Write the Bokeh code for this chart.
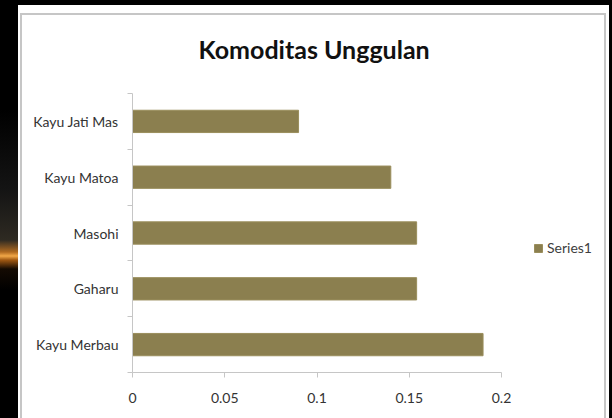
from bokeh.plotting import figure
from bokeh.models import Range1d, FixedTicker, Legend
from bokeh.embed import file_html
from bokeh.resources import INLINE

# ---- data ----
categories = ["Kayu Merbau", "Gaharu", "Masohi", "Kayu Matoa", "Kayu Jati Mas"]
values = [0.19, 0.154, 0.154, 0.14, 0.09]
x_ticks = [0, 0.05, 0.1, 0.15, 0.2]
x_tick_labels = ["0", "0.05", "0.1", "0.15", "0.2"]
series_name = "Series1"
title_text = "Komoditas Unggulan"

BAR = "#8b7f4f"
FONT = "Lato"
GRAY = "#c6c6c6"

ypos = [i + 0.5 for i in range(len(categories))]

# layout: axis 0..0.2 spans 369 px, frame extends to the right for the legend
AXIS_PX = 369
FRAME_LEFT, FRAME_RIGHT = 132, 604
x_end = x_ticks[-1] * (FRAME_RIGHT - FRAME_LEFT) / AXIS_PX

backdrop = ",".join([
    f"linear-gradient({GRAY},{GRAY}) 20px 13px/586px 2px no-repeat",
    f"linear-gradient({GRAY},{GRAY}) 20px 13px/2px 405px no-repeat",
    f"linear-gradient({GRAY},{GRAY}) 604px 13px/2px 405px no-repeat",
    "linear-gradient(#000,#000) 0 0/100% 5px no-repeat",
    "linear-gradient(#000,#000) 609px 0/3px 100% no-repeat",
    "linear-gradient(to bottom, #000 0px, #000 110px, #141414 190px, "
    "#2e2a22 240px, #b06a20 252px, #f2a848 256px, #a05812 260px, "
    "#140a02 269px, #000 290px, #000 418px) 0 0/18px 100% no-repeat",
    "#ffffff",
])

p = figure(width=612, height=418, output_backend="svg", toolbar_location=None,
           x_range=Range1d(0, x_end), y_range=Range1d(0, len(categories)),
           min_border_left=FRAME_LEFT, min_border_right=612 - FRAME_RIGHT,
           min_border_top=93, min_border_bottom=46,
           styles={"background": backdrop})
p.background_fill_color = None
p.border_fill_color = None
p.outline_line_color = None
p.xgrid.visible = False
p.ygrid.visible = False

r = p.hbar(y=ypos, right=values, left=0, height=0.4, fill_color=BAR,
           line_color="#9a8e5c", line_width=1)

# title
p.title.text = title_text
p.title.align = "left"
p.title.offset = 66
p.title.text_font = FONT
p.title.text_font_style = "bold"
p.title.text_font_size = "25px"
p.title.text_color = "#111111"
p.title.standoff = 60

# x axis
xa = p.xaxis[0]
xa.bounds = (x_ticks[0], x_ticks[-1])
xa.ticker = FixedTicker(ticks=x_ticks, minor_ticks=[])
xa.major_label_overrides = {t: l for t, l in zip(x_ticks, x_tick_labels)}
xa.axis_line_color = GRAY
xa.major_tick_line_color = GRAY
xa.major_tick_out = 5
xa.major_tick_in = 0
xa.major_label_standoff = 15
xa.major_label_text_font = FONT
xa.major_label_text_font_size = "14px"
xa.major_label_text_color = "#333333"

# y axis
ya = p.yaxis[0]
ya.ticker = FixedTicker(ticks=ypos, minor_ticks=list(range(len(categories) + 1)))
ya.major_label_overrides = {y: c for y, c in zip(ypos, categories)}
ya.axis_line_color = GRAY
ya.major_tick_out = 0
ya.major_tick_in = 0
ya.minor_tick_out = 5
ya.minor_tick_in = 0
ya.minor_tick_line_color = GRAY
ya.major_label_standoff = 9
ya.major_label_text_font = FONT
ya.major_label_text_font_size = "14px"
ya.major_label_text_color = "#333333"

# legend (inside the widened frame, right of the bars)
lg = Legend(items=[(series_name, [r])], location=(401, 116), orientation="vertical",
            padding=0, margin=0, spacing=0, glyph_width=10, glyph_height=10,
            label_height=16, label_standoff=4, label_text_font=FONT,
            label_text_font_size="14px", label_text_color="#404040",
            border_line_alpha=0, background_fill_alpha=0)
p.add_layout(lg, "center")

open("out.html", "w").write(file_html(p, INLINE))
